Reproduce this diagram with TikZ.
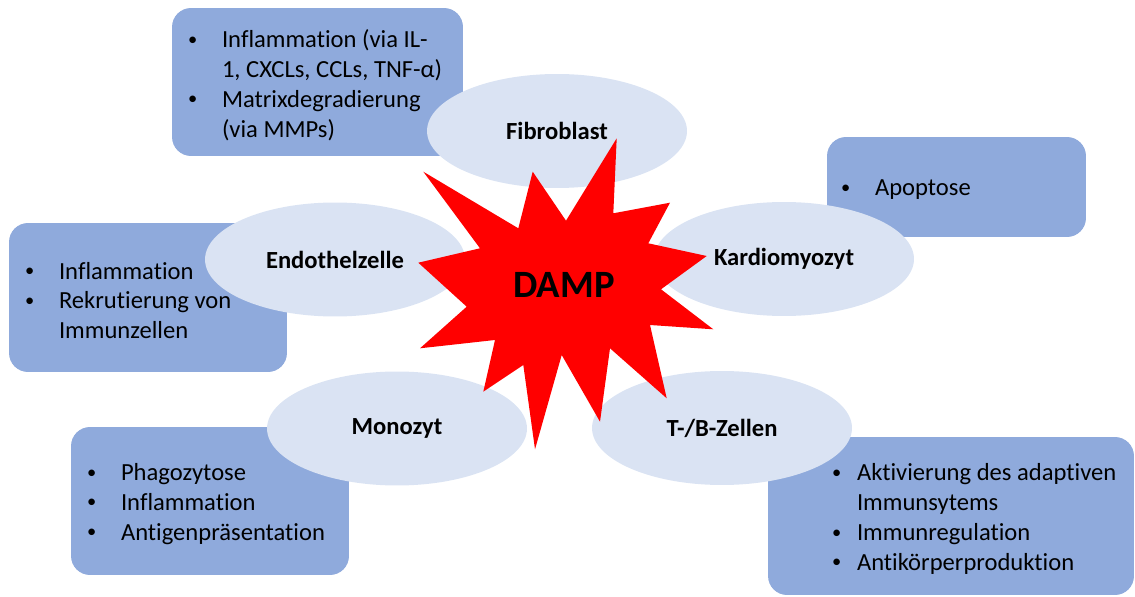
\documentclass[tikz,border=0pt]{standalone}
\usepackage{fontspec}
\setmainfont{Carlito}[Ligatures=NoCommon]
\usetikzlibrary{shapes.geometric}
\definecolor{boxblue}{HTML}{8FAADC}
\definecolor{cellblue}{HTML}{DAE3F3}
\definecolor{dampred}{HTML}{FF0000}
\newcommand\bul[1][0.7cm]{\makebox[#1][l]{\hspace{0.02cm}\raisebox{0.1em}{\scalebox{0.75}{\textbullet}}}}
\newcommand\ind[1][0.7cm]{\hspace*{#1}}

\begin{document}
\begin{tikzpicture}[
  x=0.02cm, y=-0.02cm,
  infobox/.style={rectangle,rounded corners=0.38cm,fill=boxblue,inner sep=0pt},
  infotext/.style={anchor=west,align=left,inner sep=0pt,yshift=-0.06cm,font=\fontsize{14}{17}\selectfont},
  cell/.style={ellipse,fill=cellblue,inner sep=0pt,minimum width=5.2cm,minimum height=2.28cm,font=\fontsize{14}{17}\selectfont\bfseries}
]
\useasboundingbox (0,0) rectangle (1135,597);
% effect boxes, one per cell type
\node[infobox,minimum width=5.82cm,minimum height=2.96cm] (fibbox) at (317.5,82) {};
\node[infobox,minimum width=5.18cm,minimum height=2.0cm] (apobox) at (956.5,187) {};
\node[infobox,minimum width=5.56cm,minimum height=2.98cm] (endobox) at (148,297.5) {};
\node[infobox,minimum width=5.56cm,minimum height=2.96cm] (monobox) at (210,501) {};
\node[infobox,minimum width=7.32cm,minimum height=3.16cm] (tbbox) at (951,516) {};

% bullet texts
\node[infotext,xshift=0.3cm] (fibtxt) at (fibbox.west) {\bul Inflammation (via IL-\\\ind 1, CXCLs, CCLs, TNF-α)\\\bul Matrixdegradierung\\\ind (via MMPs)};
\node[infotext,xshift=0.26cm] (apotxt) at (apobox.west) {\bul Apoptose};
\node[infotext,xshift=0.3cm] (endotxt) at (endobox.west) {\bul Inflammation\\\bul Rekrutierung von\\\ind Immunzellen};
\node[infotext,xshift=0.3cm] (monotxt) at (monobox.west) {\bul Phagozytose\\\bul Inflammation\\\bul Antigenpräsentation};
\node[infotext,xshift=1.26cm] (tbtxt) at (tbbox.west) {\bul[0.52cm]Aktivierung des adaptiven\\\ind[0.52cm]Immunsytems\\\bul[0.52cm]Immunregulation\\\bul[0.52cm]Antikörperproduktion};

% cell types
\node[cell] (fib) at (557,131) {Fibroblast};
\node[cell] (kardio) at (784,259) {Kardiomyozyt};
\node[cell] (endo) at (335,259.5) {Endothelzelle};
\node[cell] (mono) at (397,428.5) {Monozyt};
\node[cell] (tb) at (722,428) {T-/B-Zellen};

% DAMP burst
\fill[dampred] (616.7,138.3) -- (613.3,213.3) -- (670,202.7) -- (648.3,243.3)
  -- (706.7,256) -- (661,289.3) -- (713.3,329.3) -- (650,325)
  -- (666.7,398.3) -- (610,348.3) -- (600,421.7) -- (561.7,355)
  -- (535,449.3) -- (523.3,365) -- (483.3,391.7) -- (495,340)
  -- (420,348.3) -- (466.7,306.7) -- (418.3,262.7) -- (480,248.3)
  -- (423.3,171.7) -- (518.3,228.3) -- (532.7,171.7) -- (566,220.7) -- cycle;
\node[font=\fontsize{22}{26}\selectfont\bfseries] (damp) at (564,285) {DAMP};
\end{tikzpicture}
\end{document}
